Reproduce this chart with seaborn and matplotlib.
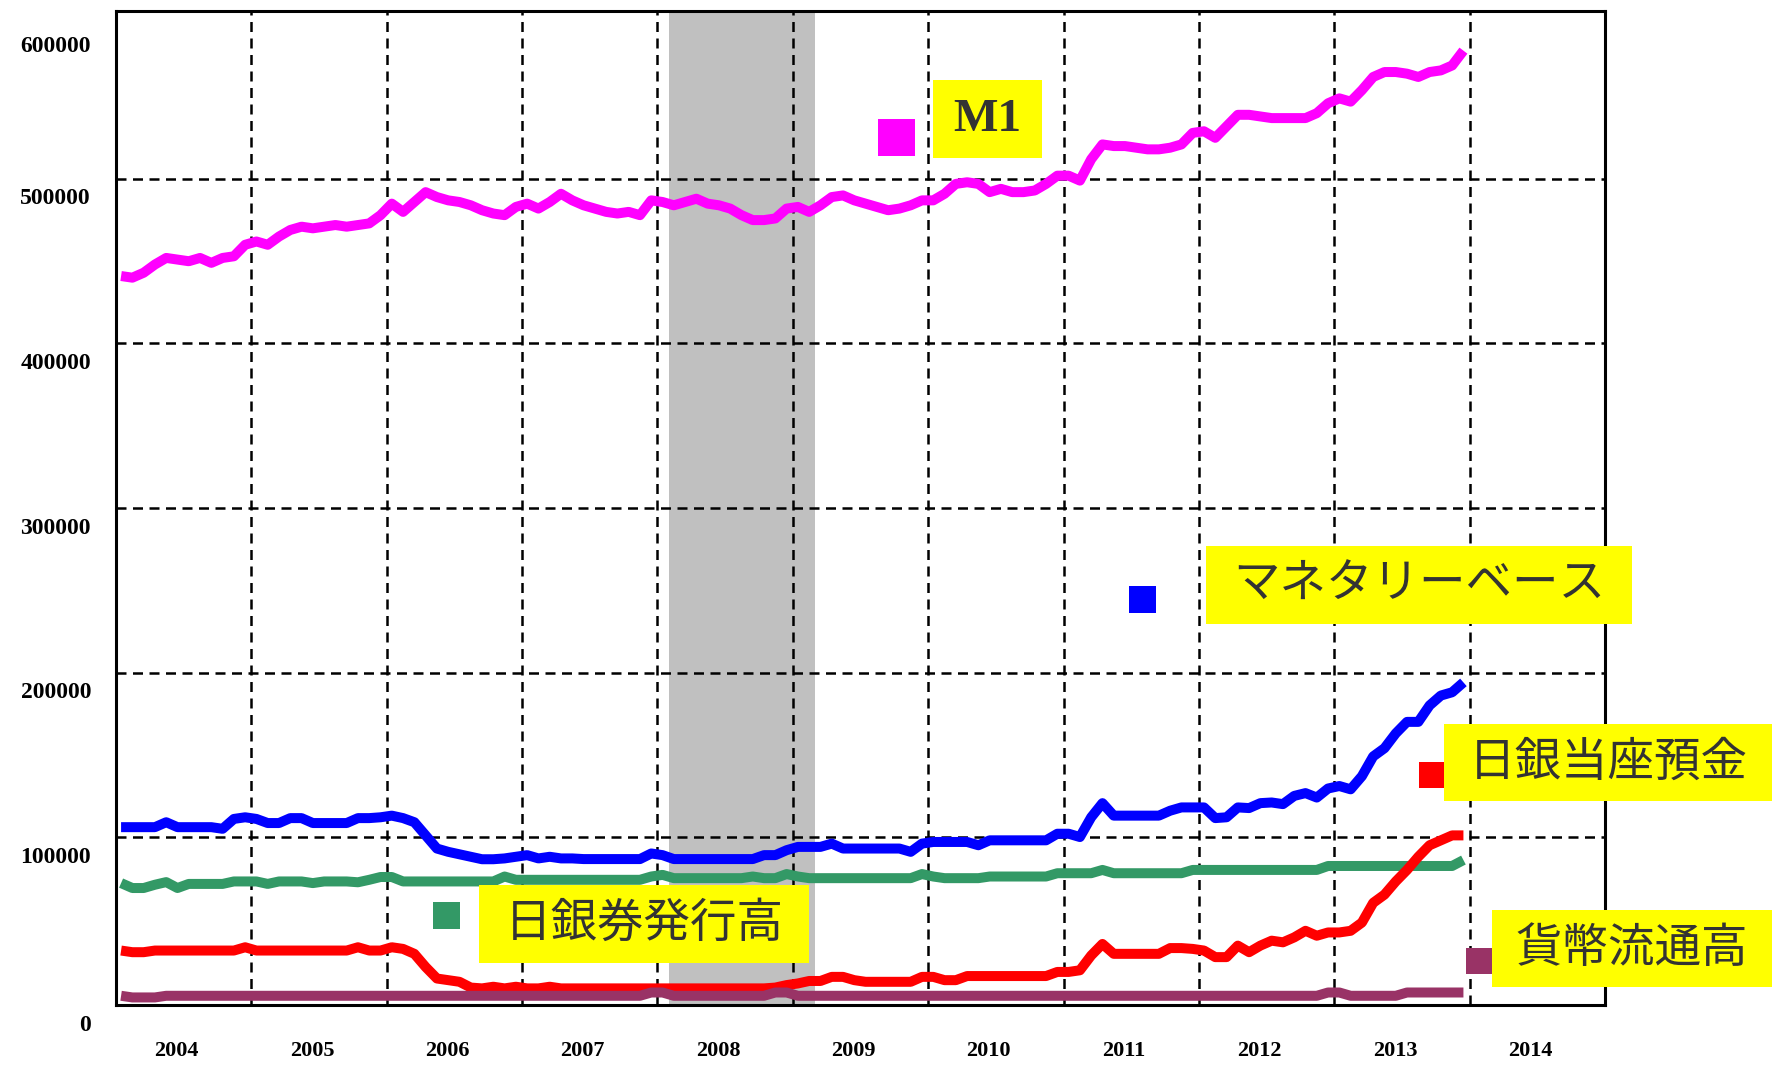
import numpy as np
import pandas as pd
import matplotlib
matplotlib.use("Agg")
import matplotlib.pyplot as plt
from matplotlib.patches import Rectangle
import seaborn as sns

# -----------------------------
# Data (monthly, Jan 2004 - Dec 2013) in thousands
# -----------------------------
m1 = [441, 440, 443, 448, 452, 451, 450, 452, 449, 452, 453, 460,
      462, 460, 465, 469, 471, 470, 471, 472, 471, 472, 473, 478,
      485, 480, 486, 492, 489, 487, 486, 484, 481, 479, 478, 483,
      485, 482, 486, 491, 487, 484, 482, 480, 479, 480, 478, 487,
      486, 484, 486, 488, 485, 484, 482, 478, 475, 475, 476, 482,
      483, 480, 484, 489, 490, 487, 485, 483, 481, 482, 484, 487,
      487, 491, 497, 498, 497, 492, 494, 492, 492, 493, 497, 502,
      502, 499, 512, 521, 520, 520, 519, 518, 518, 519, 521, 528,
      529, 525, 532, 539, 539, 538, 537, 537, 537, 537, 540, 546,
      549, 547, 554, 562, 565, 565, 564, 562, 565, 566, 569, 578]

monetary_base = [106, 106, 106, 106, 109, 106, 106, 106, 106, 105, 111, 112,
                 111, 108.5, 108.5, 111.5, 111.5, 108.5, 108.5, 108.5, 108.5, 111.5, 111.5, 112,
                 113, 111.5, 109, 101, 93, 91, 89.5, 88, 86.5, 86.5, 87, 88,
                 89, 87, 88, 87, 87, 86.6, 86.6, 86.6, 86.6, 86.6, 86.6, 90,
                 89, 86.6, 86.6, 86.6, 86.6, 86.6, 86.6, 86.6, 86.6, 89, 89, 92,
                 94, 94, 94, 96, 93, 93, 93, 93, 93, 93, 91, 96,
                 97, 97, 97, 97, 95, 98, 98, 98, 98, 98, 98, 102,
                 102, 100, 112, 120.6, 113, 113, 113, 113, 113, 116, 118, 118,
                 118, 111.5, 112, 118, 117.6, 120.6, 121, 120, 125, 126.7, 124, 129.5,
                 131, 129, 137, 149, 154, 163, 170, 170, 180, 186, 188, 194]

current_account = [31, 30, 30, 31, 31, 31, 31, 31, 31, 31, 31, 33,
                   31, 31, 31, 31, 31, 31, 31, 31, 31, 33, 31, 31,
                   33, 32, 29, 21, 14, 13, 12, 8.5, 8, 9, 8, 9,
                   8, 8, 9, 8, 8, 8, 8, 8, 8, 8, 8, 8,
                   8, 8, 8, 8, 8, 8, 8, 8, 8, 8, 8.5, 10,
                   11, 12.5, 12.5, 15, 15, 13, 12, 12, 12, 12, 12, 15,
                   15, 13, 13, 15.5, 15.5, 15.5, 15.5, 15.5, 15.5, 15.5, 15.5, 18,
                   18, 19, 28, 35, 29, 29, 29, 29, 29, 32.5, 32.5, 32,
                   31, 27, 27, 34, 30, 34, 37, 36, 39, 43, 40, 42,
                   42, 43, 48, 60, 65, 73, 80, 88, 95, 98, 101, 101]

banknotes = [72, 69, 69, 71, 72.6, 69, 71.5, 71.5, 71.5, 71.5, 73, 73,
             73, 71.5, 73, 73, 73, 72, 73, 73, 73, 72.5, 74, 75.7,
             75.7, 73, 73, 73, 73, 73, 73, 73, 73, 73, 76, 74,
             74, 74, 74, 74, 74, 74, 74, 74, 74, 74, 74, 76,
             77, 75, 75, 75, 75, 75, 75, 75, 76, 75, 75, 77.5,
             76, 75, 75, 75, 75, 75, 75, 75, 75, 75, 75, 77.5,
             76, 75, 75, 75, 75, 76, 76, 76, 76, 76, 76, 78,
             78, 78, 78, 80, 78, 78, 78, 78, 78, 78, 78, 80,
             80, 80, 80, 80, 80, 80, 80, 80, 80, 80, 80, 82.4,
             82.4, 82.4, 82.4, 82.4, 82.4, 82.4, 82.4, 82.4, 82.4, 82.4, 82.4, 86]

coins = [3.5, 2.5, 2.5, 2.5, 3.5, 3.5, 3.5, 3.5, 3.5, 3.5, 3.5, 3.5,
         3.5, 3.5, 3.5, 3.5, 3.5, 3.5, 3.5, 3.5, 3.5, 3.5, 3.5, 3.5,
         3.5, 3.5, 3.5, 3.5, 3.5, 3.5, 3.5, 3.5, 3.5, 3.5, 3.5, 3.5,
         3.5, 3.5, 3.5, 3.5, 3.5, 3.5, 3.5, 3.5, 3.5, 3.5, 3.5, 5.5,
         5.5, 3.5, 3.5, 3.5, 3.5, 3.5, 3.5, 3.5, 3.5, 3.5, 5.5, 5.5,
         3.5, 3.5, 3.5, 3.5, 3.5, 3.5, 3.5, 3.5, 3.5, 3.5, 3.5, 3.5,
         3.5, 3.5, 3.5, 3.5, 3.5, 3.5, 3.5, 3.5, 3.5, 3.5, 3.5, 3.5,
         3.5, 3.5, 3.5, 3.5, 3.5, 3.5, 3.5, 3.5, 3.5, 3.5, 3.5, 3.5,
         3.5, 3.5, 3.5, 3.5, 3.5, 3.5, 3.5, 3.5, 3.5, 3.5, 3.5, 5.5,
         5.5, 3.5, 3.5, 3.5, 3.5, 3.5, 5.5, 5.5, 5.5, 5.5, 5.5, 5.5]

years = list(range(2004, 2015))
recession = (2008 + 1 / 12, 2009 + 2 / 12)
ytick_values = [0, 100000, 200000, 300000, 400000, 500000, 600000]
ytick_labels = ["0", "100000", "200000", "300000", "400000", "500000", "600000"]

# legend boxes: label, colour, square (x0, y0, size), yellow box (x0, y0, x1, y1) in figure pixels
legend_items = [
    ("M1", "#FF00FF", (878, 119, 37), (933, 80, 1042, 158)),
    ("マネタリーベース", "#0000FF", (1129, 586, 27), (1206, 546, 1632, 624)),
    ("日銀当座預金", "#FF0000", (1419, 762, 26), (1444, 724, 1772, 801)),
    ("日銀券発行高", "#339966", (433, 902, 27), (479, 885, 809, 963)),
    ("貨幣流通高", "#993366", (1466, 948, 26), (1492, 910, 1772, 987)),
]

# -----------------------------
# Long table
# -----------------------------
t = 2004 + (np.arange(120) + 0.45) / 12
series = {"M1": m1, "マネタリーベース": monetary_base, "日銀券発行高": banknotes,
          "日銀当座預金": current_account, "貨幣流通高": coins}
colors = {"M1": "#FF00FF", "マネタリーベース": "#0000FF", "日銀券発行高": "#339966",
          "日銀当座預金": "#FF0000", "貨幣流通高": "#993366"}
df = pd.concat([pd.DataFrame({"t": t, "value": np.array(v) * 1000, "series": k})
                for k, v in series.items()], ignore_index=True)

# -----------------------------
# Plot
# -----------------------------
sns.set_style("white")
plt.rcParams['font.family'] = ['Noto Sans CJK JP', 'DejaVu Sans']

W, H = 1772, 1065
fig = plt.figure(figsize=(W / 100, H / 100), dpi=100)
ax = fig.add_axes([116 / W, 1 - 1005 / H, (1605 - 116) / W, (1005 - 11) / H])

ax.axvspan(*recession, color="#C0C0C0", lw=0, zorder=0)
for yr in years[1:]:
    ax.axvline(yr, color="black", lw=1.8, ls=(0, (4, 2.6)), zorder=1)
for v in ytick_values[1:-1]:
    ax.axhline(v, color="black", lw=1.8, ls=(0, (4, 2.6)), zorder=1)

for name in series:
    sns.lineplot(data=df[df["series"] == name], x="t", y="value", color=colors[name],
                 lw=7.2, ax=ax, zorder=3, solid_capstyle="butt", estimator=None, sort=False)

ax.set_xlim(2004, 2015)
ax.set_ylim(-2100, 602100)
ax.set_xlabel("")
ax.set_ylabel("")
ax.set_xticks(years + [2015])
ax.set_xticks(np.arange(2004, 2015.01, 0.25), minor=True)
ax.set_xticklabels([])
ax.set_yticks([])
ax.tick_params(axis="x", which="both", direction="in", length=6, width=2, colors="black")
for s in ax.spines.values():
    s.set_color("black")
    s.set_linewidth(2.2)

label_font = dict(family="Liberation Serif", color="black", fontweight="bold")
for yr in years:
    ax.annotate(str(yr), xy=(yr + 0.5, 0), xycoords=("data", "axes fraction"),
                xytext=(-7, -46), textcoords="offset pixels", ha="center", va="center",
                fontsize=16, **label_font)
yoff = [24, 20, 20, 20, 20, 20, 32]
for v, lab, off in zip(ytick_values, ytick_labels, yoff):
    ax.annotate(lab, xy=(0, v), xycoords=("axes fraction", "data"),
                xytext=(-25, -off), textcoords="offset pixels", ha="right", va="center",
                fontsize=17, **label_font)

# legend boxes on an overlay in pixel coordinates
ov = fig.add_axes([0, 0, 1, 1], zorder=5)
ov.set_xlim(0, W)
ov.set_ylim(H, 0)
ov.axis("off")
ov.patch.set_alpha(0)
for label, col, (sx, sy, ss), (bx0, by0, bx1, by1) in legend_items:
    ov.add_patch(Rectangle((sx, sy), ss, ss, color=col, lw=0))
    ov.add_patch(Rectangle((bx0, by0), bx1 - bx0, by1 - by0, color="#FFFF00", lw=0))
    if label == "M1":
        ov.text((bx0 + bx1) / 2, (by0 + by1) / 2 + 1, label, ha="center", va="center",
                fontsize=34, fontweight="bold", family="Liberation Serif", color="#333333")
    else:
        ov.text((bx0 + bx1) / 2, (by0 + by1) / 2, label, ha="center", va="center",
                fontsize=33.5, family=["Noto Sans CJK JP", "DejaVu Sans"], color="#333333")

fig.savefig("out.png", dpi=100)
